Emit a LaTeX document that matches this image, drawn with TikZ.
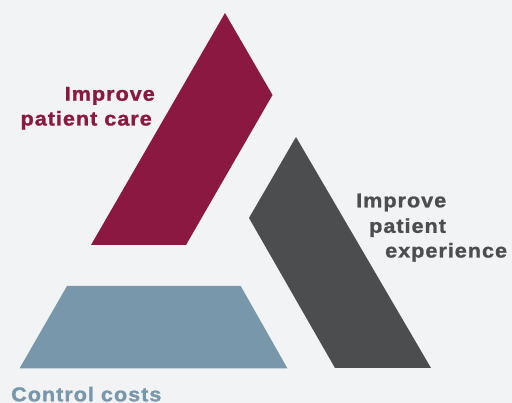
\documentclass[tikz,border=0pt]{standalone}
\usepackage{fontspec}
\setmainfont{Liberation Sans}
\newfontfamily\lblfont[LetterSpace=5,FakeStretch=1.08,FakeBold=1.2]{Liberation Sans Bold}
\definecolor{bgclr}{HTML}{F1F3F5}
\definecolor{careclr}{HTML}{8B1841}
\definecolor{expclr}{HTML}{4B4D4F}
\definecolor{costclr}{HTML}{7897AB}
\tikzset{
  lbl/.style={inner sep=0pt, font=\lblfont\fontsize{20}{24}\selectfont}
}
\begin{document}
\begin{tikzpicture}[x=1pt,y=-1pt]
\fill[bgclr] (0,0) rectangle (512,403);
\useasboundingbox (0,0) rectangle (512,403);
% shapes
\fill[careclr] (225,13) -- (272.5,95) -- (186,245) -- (91,245) -- cycle;
\fill[expclr] (296,137) -- (249,218) -- (335,368) -- (431,368) -- cycle;
\fill[costclr] (67,286) -- (240.7,286) -- (287.5,368.5) -- (19.5,368.5) -- cycle;
% labels
\node[lbl, text=careclr, anchor=base east] (care1) at (155,100.7) {Improve};
\node[lbl, text=careclr, anchor=base east] (care2) at (152,125.5) {patient care};
\node[lbl, text=expclr, anchor=base west] (exp1) at (356,207.3) {Improve};
\node[lbl, text=expclr, anchor=base west] (exp2) at (369,232.8) {patient};
\node[lbl, text=expclr, anchor=base west] (exp3) at (385,257.5) {experience};
\node[lbl, text=costclr, anchor=base west] (cost) at (11,401.3) {Control costs};
\end{tikzpicture}
\end{document}
